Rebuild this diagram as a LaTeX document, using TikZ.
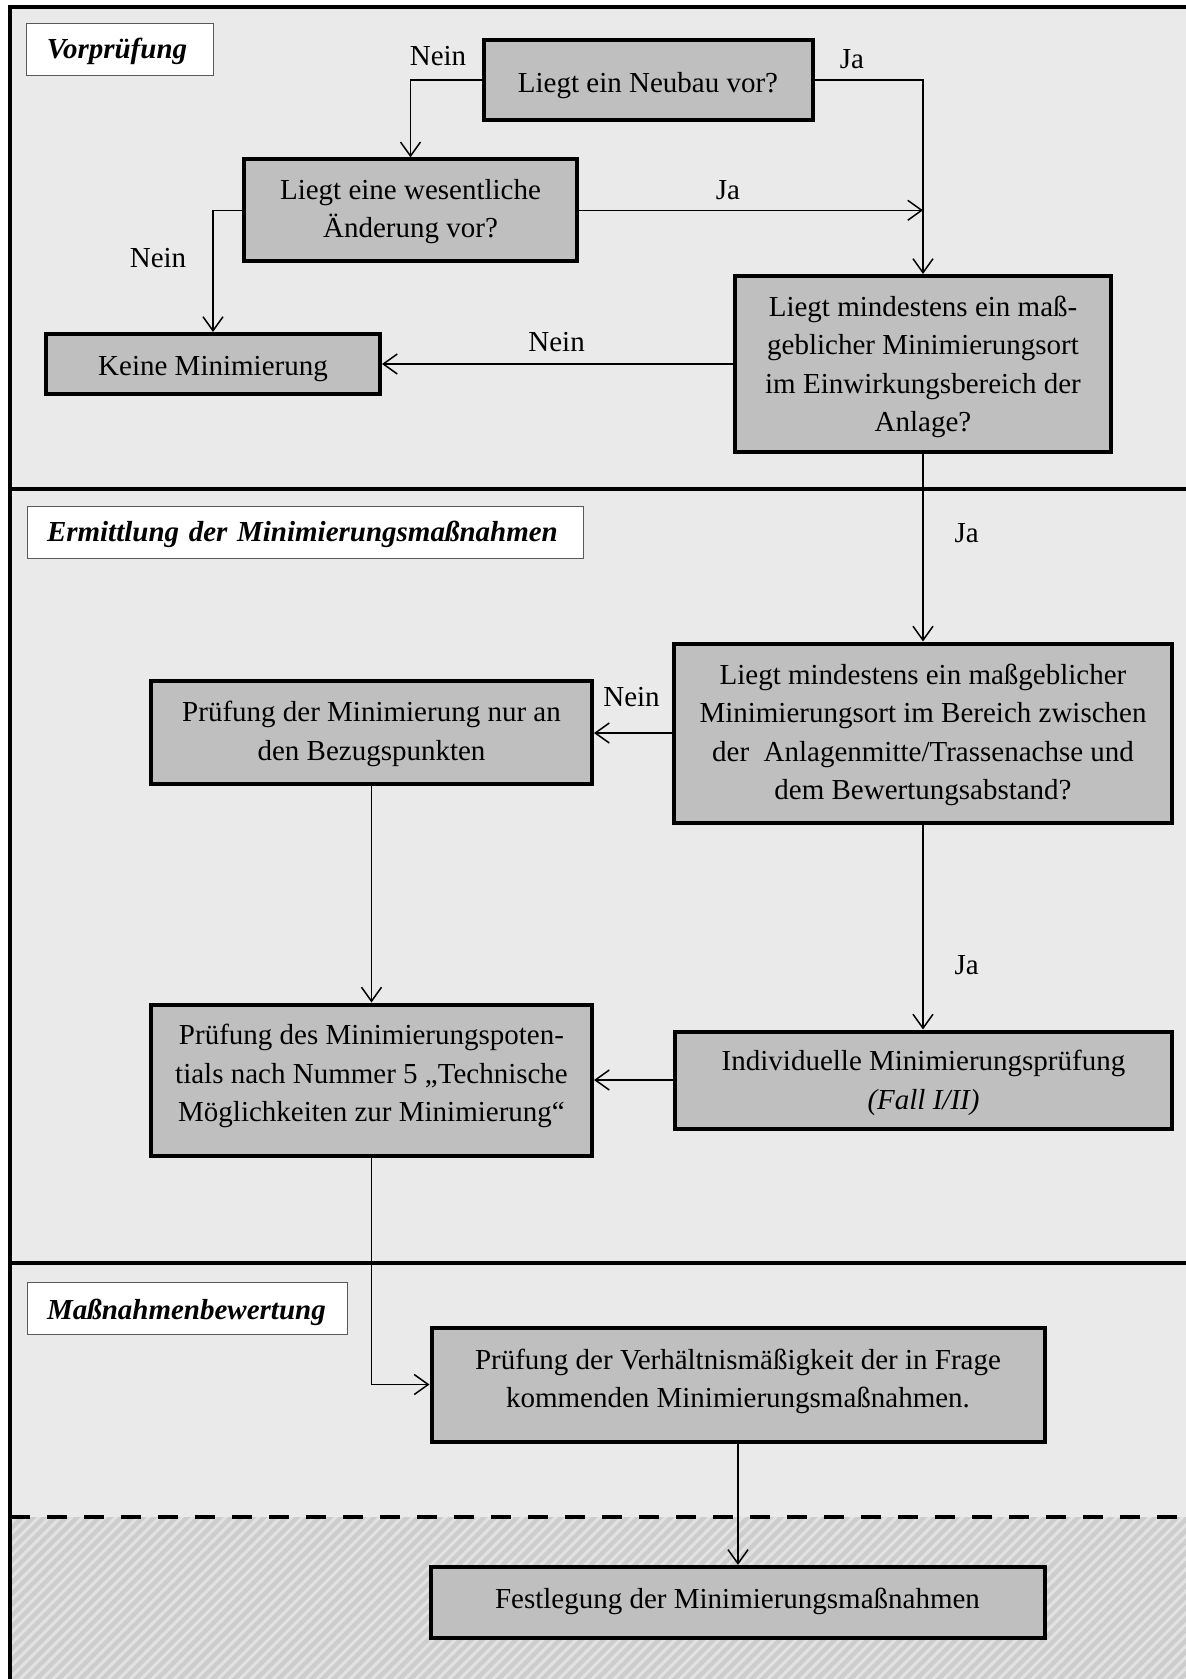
\documentclass[tikz,border=0pt]{standalone}
\usepackage{fontspec}
\setmainfont{Liberation Serif}
\usetikzlibrary{arrows.meta}
\definecolor{bgGray}{HTML}{EAEAEA}
\definecolor{boxGray}{HTML}{BFBFBF}
\definecolor{hatchBase}{HTML}{CDCDCD}
\definecolor{hatchLine}{HTML}{E2E2E2}
\newcommand\txtshift[2]{\raisebox{-#1}[\height][\depth]{\begin{tabular}{@{}c@{}}#2\end{tabular}}}
\newcommand\sectxt[2]{\raisebox{-#1}[\height][\depth]{\textbf{\textit{#2}}}}
\tikzset{
  txt/.style={font=\fontsize{29}{38.5}\selectfont},
  procbox/.style 2 args={txt, draw=black, line width=4pt, fill=boxGray, align=center,
    inner sep=0pt, minimum width=#1, minimum height=#2},
  secbox/.style={txt, draw=black!65, line width=1pt, fill=white, inner xsep=20pt, inner ysep=0pt,
    minimum height=52pt, text width=#1, align=left},
  conn/.style={line width=1.5pt, -{Straight Barb[length=14pt,width=20pt]}},
  lbl/.style={txt, inner sep=0pt},
  frameline/.style={line width=4pt}
}
\begin{document}
\begin{tikzpicture}[x=1pt,y=-1pt]
\useasboundingbox (0,0) rectangle (1186,1679);
% background
\fill[bgGray] (10,7) rectangle (1186,1517);
\begin{scope}
  \clip (10,1517) rectangle (1186,1679);
  \fill[hatchBase] (10,1517) rectangle (1186,1679);
  \foreach \i in {0,...,130} \draw[hatchLine, line width=3pt] ({\i*11-200},1690) -- ++(200,-200);
\end{scope}
\draw[frameline, line join=miter] (10,1679) -- (10,7) -- (1186,7);
\draw[frameline] (10,489) -- (1186,489);
\draw[frameline] (10,1263) -- (1186,1263);
\draw[frameline, dash pattern=on 20pt off 17pt] (10,1517) -- (1186,1517);

% section labels
\node[secbox=147pt] (sec1) at (120.4,49.3) {\sectxt{2.5pt}{Vorprüfung}};
\node[secbox=516pt] (sec2) at (305,532) {\sectxt{2.5pt}{Ermittlung der Minimierungsmaßnahmen}};
\node[secbox=280pt] (sec3) at (187,1308.5) {\sectxt{3.5pt}{Maßnahmenbewertung}};

% process boxes
\node[procbox={329pt}{80pt}] (neubau) at (648,80) {\txtshift{4.5pt}{Liegt ein Neubau vor?}};
\node[procbox={333pt}{102pt}] (wesentl) at (410.5,210.3) {\txtshift{0.5pt}{Liegt eine wesentliche\\Änderung vor?}};
\node[procbox={334pt}{60pt}] (keine) at (213,364) {\txtshift{3.5pt}{Keine Minimierung}};
\node[procbox={376pt}{176pt}] (ort1) at (923,364) {\txtshift{2.5pt}{Liegt mindestens ein maß-\\geblicher Minimierungsort\\im Einwirkungsbereich der\\Anlage?}};
\node[procbox={498pt}{179pt}] (ort2) at (923,733) {\txtshift{1.2pt}{Liegt mindestens ein maßgeblicher\\Minimierungsort im Bereich zwischen\\der\ \ Anlagenmitte/Trassenachse und\\dem Bewertungsabstand?}};
\node[procbox={441pt}{103pt}] (bezug) at (371.5,732) {\txtshift{1.2pt}{Prüfung der Minimierung nur an\\den Bezugspunkten}};
\node[procbox={441pt}{151pt}] (potent) at (371.5,1080) {\txtshift{-4.5pt}{Prüfung des Minimierungspoten-\\tials nach Nummer 5 „Technische\\Möglichkeiten zur Minimierung“}};
\node[procbox={497pt}{97pt}] (indiv) at (923.5,1080) {\txtshift{2.5pt}{Individuelle Minimierungsprüfung\\\textit{(Fall I/II)}}};
\node[procbox={613pt}{114pt}] (verh) at (738,1384.5) {\txtshift{-3.5pt}{Prüfung der Verhältnismäßigkeit der in Frage\\kommenden Minimierungsmaßnahmen.}};
\node[procbox={614pt}{71pt}] (festl) at (737.5,1602.4) {\txtshift{-1.5pt}{Festlegung der Minimierungsmaßnahmen}};

% connectors
\coordinate (jn) at (ort1.north |- wesentl.east);
\draw[conn] (neubau.west) -| (wesentl.north);
\draw[conn] (neubau.east) -| (ort1.north);
\draw[conn] (wesentl.east) -- (jn);
\draw[conn] (wesentl.west) -| (keine.north);
\draw[conn] (ort1.west) -- (keine.east);
\draw[conn] (ort1.south) -- (ort2.north);
\draw[conn] (ort2.west) -- (ort2.west -| bezug.east);
\draw[conn] (ort2.south) -- (ort2.south |- indiv.north);
\draw[conn] (bezug.south) -- (potent.north);
\draw[conn] (indiv.west) -- (indiv.west -| potent.east);
\draw[conn] (potent.south) |- (verh.west);
\draw[conn] (verh.south) -- (verh.south |- festl.north);

% connector labels
\node[lbl] (n1) at (438,56) {Nein};
\node[lbl] (j1) at (852,59) {Ja};
\node[lbl] (j2) at (728,190.5) {Ja};
\node[lbl] (n2) at (158,258) {Nein};
\node[lbl] (n3) at (556.6,342.5) {Nein};
\node[lbl] (j3) at (966.6,533) {Ja};
\node[lbl] (n4) at (631.5,697) {Nein};
\node[lbl] (j4) at (966.6,965.5) {Ja};
\end{tikzpicture}
\end{document}
